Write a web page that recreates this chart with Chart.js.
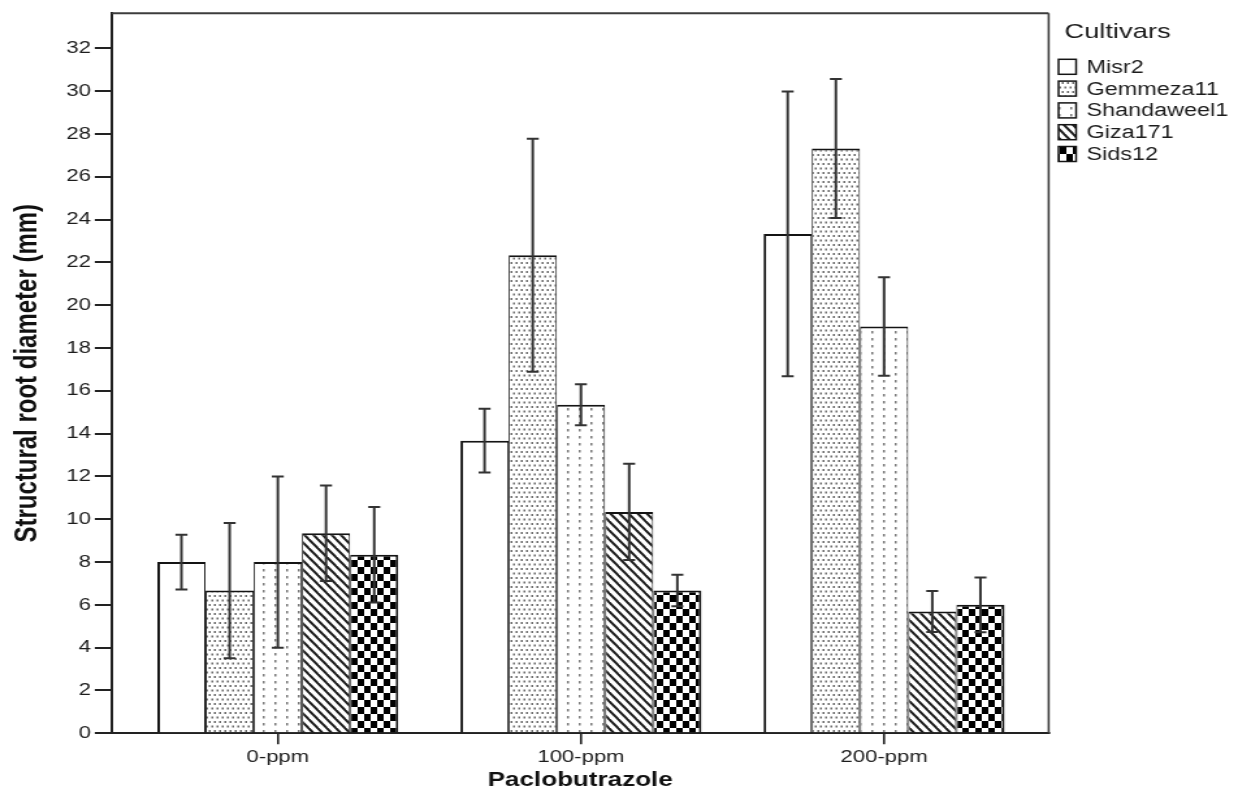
<!DOCTYPE html>
<html>
<head>
<meta charset="utf-8">
<title>Structural root diameter</title>
<script src="https://cdn.jsdelivr.net/npm/chart.js@4.4.1/dist/chart.umd.min.js"></script>
<style>
  html, body { margin: 0; padding: 0; background: #ffffff; }
  /* the drawing surface is rendered narrow and shown stretched to the full width */
  #chart { display: block; width: 1238px !important; height: 808px !important; }
</style>
</head>
<body>
<canvas id="chart" width="952" height="808" style="width:1238px;height:808px;display:block"></canvas>
<script>
// Paclobutrazole levels (x categories)
const categories = ['0-ppm', '100-ppm', '200-ppm'];
const cultivars = ['Misr2', 'Gemmeza11', 'Shandaweel1', 'Giza171', 'Sids12'];

// Mean structural root diameter (mm) per cultivar, one value per level
const misr2 = [8.0, 13.67, 23.33];
const gemmeza11 = [6.67, 22.33, 27.32];
const shandaweel1 = [8.0, 15.35, 19.0];
const giza171 = [9.35, 10.34, 5.69];
const sids12 = [8.34, 6.67, 6.0];

// Error bar half-lengths (mm)
const misr2Err = [1.28, 1.49, 6.65];
const gemmeza11Err = [3.16, 5.44, 3.25];
const shandaweel1Err = [4.0, 0.96, 2.3];
const giza171Err = [2.23, 2.25, 0.96];
const sids12Err = [2.23, 0.74, 1.28];

// Y axis tick values
const yTickValues = [0, 2, 4, 6, 8, 10, 12, 14, 16, 18, 20, 22, 24, 26, 28, 30, 32];

const FONT = "'Liberation Sans', Arial, sans-serif";
const canvas = document.getElementById('chart');
const ctx = canvas.getContext('2d');

// ---- fill patterns for the bars ----
function tile(w, h, paint) {
  const c = document.createElement('canvas');
  c.width = w; c.height = h;
  const g = c.getContext('2d');
  g.fillStyle = '#ffffff';
  g.fillRect(0, 0, w, h);
  paint(g, w, h);
  return ctx.createPattern(c, 'repeat');
}
const fillPlain = '#ffffff';
const fillDots = tile(8, 9, g => {
  g.fillStyle = '#6a6a6a';
  g.fillRect(0.5, 1, 1.5, 2); g.fillRect(4.5, 1, 1.5, 2);
  g.fillRect(2.5, 5.5, 1.5, 2); g.fillRect(6.5, 5.5, 1.5, 2);
});
const fillDottedLines = tile(9, 7, g => {
  g.fillStyle = '#7a7a7a';
  g.fillRect(4, 2, 1.5, 2.5);
});
const fillDiagonal = tile(7, 9, (g, w, h) => {
  g.strokeStyle = '#1e1e1e';
  g.lineWidth = 2;
  for (const dx of [-w, 0, w]) {
    g.beginPath();
    g.moveTo(dx - w, -h);
    g.lineTo(dx + 2 * w, 2 * h);
    g.stroke();
  }
});
const fillChecker = tile(10, 14, g => {
  g.fillStyle = '#000000';
  g.fillRect(0, 0, 5, 7);
  g.fillRect(5, 7, 5, 7);
});

const seriesValues = [misr2, gemmeza11, shandaweel1, giza171, sids12];
const seriesErrors = [misr2Err, gemmeza11Err, shandaweel1Err, giza171Err, sids12Err];
const seriesFills = [fillPlain, fillDots, fillDottedLines, fillDiagonal, fillChecker];

const datasets = cultivars.map((name, i) => ({
  label: name,
  data: seriesValues[i].map((v, k) => ({ x: k, y: v })),
  errorBars: seriesErrors[i],
  backgroundColor: seriesFills[i],
  borderColor: '#141414',
  borderWidth: { top: 2, left: i === 0 ? 2 : 1, right: i === cultivars.length - 1 ? 2 : 1, bottom: 0 },
  borderSkipped: 'start',
  categoryPercentage: 0.795,
  barPercentage: 1.0
}));

// error bars drawn over the bars
const errorBarPlugin = {
  id: 'errorBars',
  afterDatasetsDraw(chart) {
    const c = chart.ctx, ys = chart.scales.y;
    c.save();
    c.strokeStyle = '#333333';
    chart.data.datasets.forEach((ds, i) => {
      const meta = chart.getDatasetMeta(i);
      meta.data.forEach((bar, k) => {
        const m = ds.data[k].y, e = ds.errorBars[k];
        const yHi = ys.getPixelForValue(m + e);
        const yLo = ys.getPixelForValue(m - e);
        const cap = 4.6;
        c.lineWidth = 2;
        c.beginPath();
        c.moveTo(bar.x, yHi); c.lineTo(bar.x, yLo);
        c.stroke();
        c.beginPath();
        c.moveTo(bar.x - cap, yHi); c.lineTo(bar.x + cap, yHi);
        c.moveTo(bar.x - cap, yLo); c.lineTo(bar.x + cap, yLo);
        c.stroke();
      });
    });
    c.restore();
  }
};

// top and right edges of the plot frame, plus the legend block
const framePlugin = {
  id: 'frameAndKey',
  afterDraw(chart) {
    const c = chart.ctx, a = chart.chartArea;
    c.save();
    c.strokeStyle = '#3c3c3c';
    c.lineWidth = 2;
    c.beginPath();
    c.moveTo(a.left, a.top); c.lineTo(a.right, a.top);
    c.stroke();
    c.lineWidth = 1.6;
    c.beginPath();
    c.moveTo(a.right, a.top); c.lineTo(a.right, a.bottom);
    c.stroke();

    // legend
    const boxL = 814, boxW = 13.5, boxH = 15, textX = 835.5;
    c.fillStyle = '#1c1c1c';
    c.textBaseline = 'middle';
    c.textAlign = 'left';
    c.font = `21px ${FONT}`;
    c.fillText('Cultivars', 818.5, 32);
    c.font = `18px ${FONT}`;
    chart.data.datasets.forEach((ds, i) => {
      const cy = 66.8 + i * 21.8;
      c.fillStyle = ds.backgroundColor;
      c.fillRect(boxL, cy - boxH / 2, boxW, boxH);
      c.strokeStyle = '#141414';
      c.lineWidth = 1.5;
      c.strokeRect(boxL, cy - boxH / 2, boxW, boxH);
      c.fillStyle = '#1c1c1c';
      c.fillText(ds.label, textX, cy + 1);
    });
    c.restore();
  }
};

new Chart(ctx, {
  type: 'bar',
  data: { datasets },
  plugins: [errorBarPlugin, framePlugin],
  options: {
    responsive: false,
    devicePixelRatio: 1,
    animation: false,
    layout: { padding: { left: 0, top: 10, right: 145.6, bottom: 0 } },
    plugins: { legend: { display: false }, tooltip: { enabled: false } },
    scales: {
      x: {
        type: 'linear',
        min: -0.548,
        max: 2.543,
        offset: false,
        afterBuildTicks: s => { s.ticks = categories.map((_, k) => ({ value: k })); },
        afterFit: s => { s.height = 74.7; },
        ticks: {
          callback: v => categories[v],
          font: { family: FONT, size: 17 },
          color: '#1c1c1c',
          padding: 3,
          maxRotation: 0
        },
        grid: { offset: false, drawOnChartArea: false, drawTicks: true, tickLength: 11, color: '#222222', lineWidth: 1.6 },
        border: { display: true, color: '#222222', width: 2 },
        title: {
          display: true,
          text: 'Paclobutrazole',
          font: { family: FONT, size: 20, weight: 'bold' },
          color: '#111111',
          padding: { top: 0, bottom: 16 }
        }
      },
      y: {
        type: 'linear',
        min: 0,
        max: 33.64,
        afterBuildTicks: s => { s.ticks = yTickValues.map(v => ({ value: v })); },
        afterFit: s => { s.width = 85.9; },
        ticks: {
          font: { family: FONT, size: 17 },
          color: '#1c1c1c',
          padding: 3
        },
        grid: { drawOnChartArea: false, drawTicks: true, tickLength: 13, color: '#222222', lineWidth: 2 },
        border: { display: true, color: '#222222', width: 2 },
        title: {
          display: true,
          text: 'Structural root diameter (mm)',
          font: { family: FONT, size: 24, weight: 'bold' },
          color: '#111111',
          padding: { top: 7, bottom: 0 }
        }
      }
    }
  }
});
</script>
</body>
</html>
